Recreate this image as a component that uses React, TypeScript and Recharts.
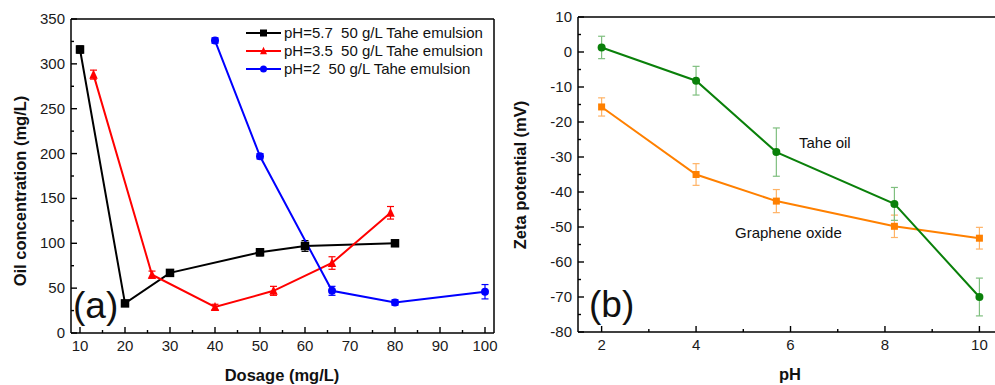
import { LineChart, Line, XAxis, YAxis, ErrorBar, ReferenceLine } from 'recharts';

const FONT = '"Liberation Sans", Arial, Helvetica, sans-serif';

// panel (a): oil concentration vs dosage
const dosage57 = [10, 20, 30, 50, 60, 80];
const conc57 = [316, 33, 67, 90, 97, 100];
const err57 = [4, 3, 3, 4, 6, 3];

const dosage35 = [13, 26, 40, 53, 66, 79];
const conc35 = [288, 65, 29, 47, 78, 134];
const err35 = [5, 4, 3, 5, 7, 7];

const dosage2 = [40, 50, 66, 80, 100];
const conc2 = [326, 197, 47, 34, 46];
const err2 = [3, 3, 5, 3, 8];

const dosageTicks = [10, 15, 20, 25, 30, 35, 40, 45, 50, 55, 60, 65, 70, 75, 80, 85, 90, 95, 100];
const concTicks = [0, 25, 50, 75, 100, 125, 150, 175, 200, 225, 250, 275, 300, 325, 350];

// panel (b): zeta potential vs pH
const phValues = [2, 4, 5.7, 8.2, 10];
const zetaTahe = [1.3, -8.2, -28.6, -43.4, -70];
const errTahe = [3.2, 4.1, 6.9, 4.7, 5.4];
const zetaGO = [-15.7, -35, -42.6, -49.8, -53.2];
const errGO = [2.6, 3.1, 3.3, 3.2, 3.1];

const phTicks = [2, 3, 4, 5, 6, 7, 8, 9, 10];
const zetaTicks = [-80, -75, -70, -65, -60, -55, -50, -45, -40, -35, -30, -25, -20, -15, -10, -5, 0, 5, 10];

const seriesA = [
  { name: 'pH=5.7  50 g/L Tahe emulsion', color: '#000000', shape: 'square', xs: dosage57, ys: conc57, es: err57 },
  { name: 'pH=3.5  50 g/L Tahe emulsion', color: '#ff0000', shape: 'triangle', xs: dosage35, ys: conc35, es: err35 },
  { name: 'pH=2  50 g/L Tahe emulsion', color: '#0000ff', shape: 'circle', xs: dosage2, ys: conc2, es: err2 },
];

const toRows = (xs: number[], ys: number[], es: number[]) =>
  xs.map((x, i) => ({ x, y: ys[i], err: es[i] }));

const rowsTahe = toRows(phValues, zetaTahe, errTahe);
const rowsGO = toRows(phValues, zetaGO, errGO);

function marker(shape: string, cx: number, cy: number, color: string, size: number, key?: any) {
  if (shape === 'square') {
    return <rect key={key} x={cx - size / 2} y={cy - size / 2} width={size} height={size} fill={color} />;
  }
  if (shape === 'triangle') {
    const h = size * 0.95;
    return (
      <polygon
        key={key}
        points={`${cx},${cy - h / 2 - 1} ${cx - size / 2},${cy + h / 2} ${cx + size / 2},${cy + h / 2}`}
        fill={color}
      />
    );
  }
  return <circle key={key} cx={cx} cy={cy} r={size / 2} fill={color} />;
}

const makeDot = (shape: string, color: string, size: number) => (props: any) => {
  const { cx, cy, index } = props;
  if (cx == null || cy == null) return <g key={`d-${index}`} />;
  return marker(shape, cx, cy, color, size, `d-${index}`);
};

const makeXTick = (isMajor: (v: number) => boolean) => (props: any) => {
  const { x, y, payload } = props;
  const v = payload.value;
  const major = isMajor(v);
  return (
    <g>
      <line x1={x} x2={x} y1={y} y2={y - (major ? 6 : 3)} stroke="#000" strokeWidth={1.4} />
      {major && (
        <text x={x} y={y + 18} textAnchor="middle" fontSize={15} fontFamily={FONT} fill="#1a1a1a">
          {v}
        </text>
      )}
    </g>
  );
};

const makeYTick = (isMajor: (v: number) => boolean) => (props: any) => {
  const { x, y, payload } = props;
  const v = payload.value;
  const major = isMajor(v);
  return (
    <g>
      <line x1={x} x2={x + (major ? 6 : 3)} y1={y} y2={y} stroke="#000" strokeWidth={1.4} />
      {major && (
        <text x={x - 6} y={y + 5} textAnchor="end" fontSize={15} fontFamily={FONT} fill="#1a1a1a">
          {v}
        </text>
      )}
    </g>
  );
};

export default function App() {
  return (
    <div style={{ position: 'absolute', left: 0, top: 0, width: 995, height: 385, background: '#fff' }}>
      <div style={{ position: 'absolute', left: 0, top: 0 }}>
        <LineChart width={500} height={385} margin={{ top: 19, right: 6, bottom: 22, left: 11 }}>
          <XAxis
            type="number"
            dataKey="x"
            domain={[8, 102]}
            ticks={dosageTicks}
            interval={0}
            tickSize={0}
            tickMargin={0}
            height={30}
            allowDataOverflow
            axisLine={{ stroke: '#000', strokeWidth: 1.5 }}
            tick={makeXTick((v) => v % 10 === 0)}
          />
          <YAxis
            type="number"
            dataKey="y"
            domain={[0, 350]}
            ticks={concTicks}
            interval={0}
            tickSize={0}
            tickMargin={0}
            width={60}
            allowDataOverflow
            axisLine={{ stroke: '#000', strokeWidth: 1.5 }}
            tick={makeYTick((v) => v % 50 === 0)}
          />
          <ReferenceLine y={350} stroke="#000" strokeWidth={1.5} />
          <ReferenceLine x={102} stroke="#000" strokeWidth={1.5} />
          {seriesA.map((s) => (
            <Line
              key={s.name}
              data={toRows(s.xs, s.ys, s.es)}
              dataKey="y"
              name={s.name}
              stroke={s.color}
              strokeWidth={2}
              isAnimationActive={false}
              dot={makeDot(s.shape, s.color, s.shape === 'circle' ? 8 : 8.5)}
              activeDot={false}
            >
              <ErrorBar dataKey="err" direction="y" width={3.5} stroke={s.color} strokeWidth={1.2} />
            </Line>
          ))}
        </LineChart>
      </div>

      <div style={{ position: 'absolute', left: 500, top: 0 }}>
        <LineChart width={495} height={385} margin={{ top: 17, right: 0, bottom: 23, left: 38 }}>
          <XAxis
            type="number"
            dataKey="x"
            domain={[1.5, 10.33]}
            ticks={phTicks}
            interval={0}
            tickSize={0}
            tickMargin={0}
            height={30}
            allowDataOverflow
            axisLine={{ stroke: '#000', strokeWidth: 1.5 }}
            tick={makeXTick((v) => v % 2 === 0)}
          />
          <YAxis
            type="number"
            dataKey="y"
            domain={[-80, 10]}
            ticks={zetaTicks}
            interval={0}
            tickSize={0}
            tickMargin={0}
            width={40}
            allowDataOverflow
            axisLine={{ stroke: '#000', strokeWidth: 1.5 }}
            tick={makeYTick((v) => v % 10 === 0)}
          />
          <ReferenceLine y={10} stroke="#000" strokeWidth={1.5} />
          <Line
            data={rowsGO}
            dataKey="y"
            name="Graphene oxide"
            stroke="#ff8000"
            strokeWidth={2}
            isAnimationActive={false}
            dot={makeDot('square', '#ff8000', 7)}
            activeDot={false}
          >
            <ErrorBar dataKey="err" direction="y" width={3.5} stroke="#ffb366" strokeWidth={1.2} />
          </Line>
          <Line
            data={rowsTahe}
            dataKey="y"
            name="Tahe oil"
            stroke="#0a800a"
            strokeWidth={2}
            isAnimationActive={false}
            dot={makeDot('circle', '#0a800a', 8)}
            activeDot={false}
          >
            <ErrorBar dataKey="err" direction="y" width={3.5} stroke="#7fbf7f" strokeWidth={1.2} />
          </Line>
        </LineChart>
      </div>

      <svg
        width={995}
        height={385}
        style={{ position: 'absolute', left: 0, top: 0, pointerEvents: 'none', whiteSpace: 'pre' }}
        fontFamily={FONT}
      >
        {/* panel (a) titles */}
        <text
          transform="translate(20,191) rotate(-90)"
          textAnchor="middle"
          dy="0.35em"
          fontSize={16.5}
          fontWeight="bold"
          fill="#111"
        >
          Oil concentration (mg/L)
        </text>
        <text x={282} y={381} textAnchor="middle" fontSize={16.5} fontWeight="bold" fill="#111">
          Dosage (mg/L)
        </text>
        <text x={73} y={318} fontSize={37} fill="#111">
          (a)
        </text>
        {seriesA.map((s, i) => {
          const cy = 33 + 18 * i;
          return (
            <g key={s.name}>
              <line x1={246} x2={281} y1={cy} y2={cy} stroke={s.color} strokeWidth={2} />
              {marker(s.shape, 263.5, cy, s.color, 7)}
              <text x={284} y={cy + 5} fontSize={15} fill="#111" style={{ whiteSpace: 'pre' }}>
                {s.name}
              </text>
            </g>
          );
        })}

        {/* panel (b) titles */}
        <text
          transform="translate(520,175) rotate(-90)"
          textAnchor="middle"
          dy="0.35em"
          fontSize={16.5}
          fontWeight="bold"
          fill="#111"
        >
          Zeta potential (mV)
        </text>
        <text x={790} y={380} textAnchor="middle" fontSize={16.5} fontWeight="bold" fill="#111">
          pH
        </text>
        <text x={589} y={317} fontSize={37} fill="#111">
          (b)
        </text>
        <text x={799} y={148} fontSize={15} fill="#111">
          Tahe oil
        </text>
        <text x={735} y={238} fontSize={15} fill="#111">
          Graphene oxide
        </text>
      </svg>
    </div>
  );
}
